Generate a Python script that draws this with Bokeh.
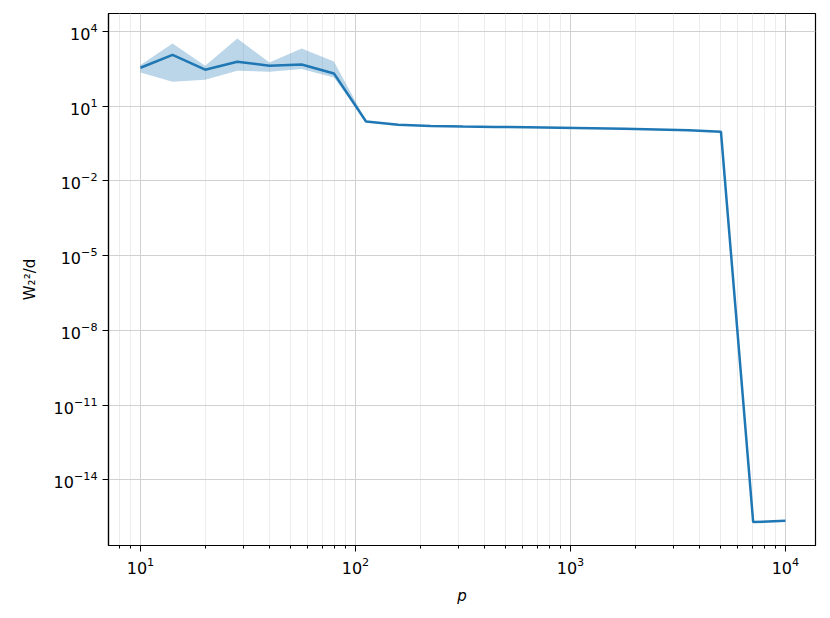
from bokeh.plotting import figure
from bokeh.models import FixedTicker, LogTickFormatter, Range1d
from bokeh.embed import file_html
from bokeh.resources import INLINE

# data
p_vals = [10, 14.1, 20.0, 28.2, 39.8, 56.2, 79.4, 112, 158, 224, 316, 447, 631,
          891, 1259, 1778, 2512, 3548, 5012, 7079, 10000]
w_mean = [348, 1138, 290, 607, 419, 473, 206, 2.43, 1.79, 1.60, 1.53, 1.47, 1.41,
          1.36, 1.30, 1.24, 1.16, 1.08, 0.94, 2.0e-16, 2.24e-16]
w_upper = [447, 3300, 419, 5240, 569, 2075, 624, 2.6, 1.85, 1.65, 1.57, 1.5, 1.44,
           1.39, 1.33, 1.27, 1.19, 1.11, 0.97, 2.05e-16, 2.3e-16]
w_lower = [225, 95.5, 115, 263, 240, 309, 141, 2.3, 1.73, 1.55, 1.49, 1.44, 1.38,
           1.33, 1.27, 1.21, 1.13, 1.05, 0.91, 1.95e-16, 2.18e-16]
x_ticks = [10, 100, 1000, 10000]
y_ticks = [1e4, 1e1, 1e-2, 1e-5, 1e-8, 1e-11, 1e-14]

x_minor = [m * d for d in [1, 10, 100, 1000] for m in range(2, 10)]

p = figure(width=822, height=610, x_axis_type="log", y_axis_type="log",
           output_backend="svg", toolbar_location=None,
           x_range=Range1d(7.1, 13800), y_range=Range1d(10**-16.64, 10**4.72),
           min_border_left=108, min_border_right=7, min_border_top=13,
           min_border_bottom=65)

p.varea(x=p_vals, y1=w_lower, y2=w_upper, fill_color="#1f77b4", fill_alpha=0.3)
p.line(x=p_vals, y=w_mean, line_color="#1f77b4", line_width=2.5)

p.xaxis.ticker = FixedTicker(ticks=x_ticks, minor_ticks=x_minor)
p.yaxis.ticker = FixedTicker(ticks=y_ticks, minor_ticks=[])
p.xaxis.formatter = LogTickFormatter()
p.yaxis.formatter = LogTickFormatter()

p.outline_line_color = "black"
p.outline_line_width = 1.2
for ax in (p.xaxis, p.yaxis):
    ax.axis_line_color = "black"
    ax.axis_line_width = 1.2
    ax.major_tick_line_color = "black"
    ax.minor_tick_line_color = "black"
    ax.major_tick_out = 6
    ax.major_tick_in = 0
    ax.minor_tick_out = 3
    ax.minor_tick_in = 0
    ax.major_label_text_font = "DejaVu Sans"
    ax.major_label_text_font_size = "16px"
    ax.major_label_text_color = "black"
    ax.major_label_standoff = 5
    ax.axis_label_text_font = "DejaVu Sans"
    ax.axis_label_text_font_size = "15px"
    ax.axis_label_text_color = "black"

p.xaxis.axis_label = "p"
p.xaxis.axis_label_text_font_style = "italic"
p.xaxis.axis_label_standoff = 10
p.yaxis.axis_label = "W₂²/d"
p.yaxis.axis_label_text_font_style = "normal"
p.yaxis.axis_label_standoff = 12

p.xgrid.grid_line_color = "#d0d0d0"
p.xgrid.grid_line_width = 1
p.xgrid.minor_grid_line_color = "#ececec"
p.xgrid.minor_grid_line_width = 1
p.ygrid.grid_line_color = "#d0d0d0"
p.ygrid.grid_line_width = 1

open("out.html", "w").write(file_html(p, INLINE))
